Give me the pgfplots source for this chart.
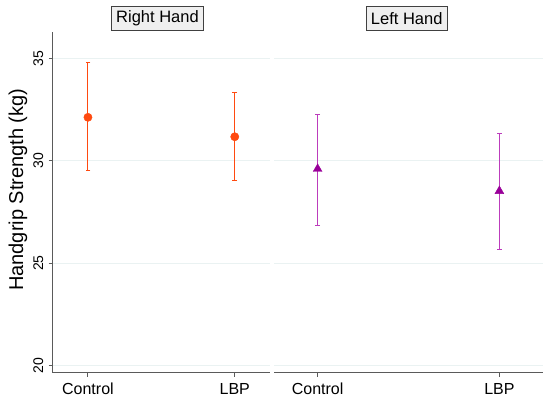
\documentclass[border=0pt]{standalone}
\usepackage{pgfplots}
\pgfplotsset{compat=1.18}
\usepackage{fontspec}
\setmainfont{Liberation Sans}
\definecolor{orred}{HTML}{FF4A10}
\definecolor{mypurple}{HTML}{990099}
\definecolor{barpurple}{HTML}{BC3CBC}
\definecolor{gridc}{HTML}{EAF2F2}
\definecolor{axc}{HTML}{5A5A5A}
\definecolor{boxfill}{HTML}{EFEFEF}
\definecolor{boxdraw}{HTML}{404040}
\pgfplotsset{
  panel/.style={
    scale only axis,
    anchor=south west,
    height=341bp,
    xmin=-0.24, xmax=1.24,
    ymin=19.65, ymax=36.3,
    xtick={0,1}, xticklabels={Control,LBP},
    ytick={20,25,30,35},
    ymajorgrids,
    major grid style={color=gridc, line width=1bp},
    axis x line*=bottom, axis y line*=left,
    axis line style={color=axc, line width=0.9bp, -},
    tick style={color=axc, line width=0.9bp},
    major tick length=4bp,
    tick align=outside,
    /pgf/number format/assume math mode=true,
    xticklabel style={font=\fontsize{16bp}{18bp}\selectfont, text=black, yshift=-3bp},
    yticklabel style={font=\fontsize{14bp}{16bp}\selectfont, xshift=-2bp, rotate=90, anchor=south, text=black},
    clip=false,
  },
}
\begin{document}
\begin{tikzpicture}
\path[use as bounding box] (0,0) rectangle (550bp,407bp);
\begin{axis}[panel, at={(52.7bp,34.3bp)}, width=217.3bp]
\addplot[color=orred, line width=1bp, mark=-, mark size=2.4bp] coordinates {(0,29.50) (0,34.79)};
\addplot[color=orred, line width=1bp, mark=-, mark size=2.4bp] coordinates {(1,29.04) (1,33.32)};
\addplot[only marks, color=orred, mark=*, mark size=4.15bp] coordinates {(0,32.12) (1,31.17)};
\end{axis}
\begin{axis}[panel, at={(274bp,34.3bp)}, width=269bp,
  axis y line*=right, y axis line style={color=white}, ytick style={color=white}, yticklabels={}]
\addplot[color=barpurple, line width=1bp, mark=-, mark size=2.4bp] coordinates {(0,26.86) (0,32.27)};
\addplot[color=barpurple, line width=1bp, mark=-, mark size=2.4bp] coordinates {(1,25.67) (1,31.32)};
\addplot[only marks, color=mypurple, mark=triangle*, mark size=5.1bp] coordinates {(0,29.60) (1,28.52)};
\end{axis}
\node[rotate=90, font=\fontsize{20bp}{24bp}\selectfont] at (18bp,217.3bp) {Handgrip Strength (kg)};
\node[draw=boxdraw, fill=boxfill, line width=0.8bp, inner xsep=5bp, inner ysep=0bp,
  minimum height=24bp, font=\fontsize{16.5bp}{19bp}\selectfont] at (157.5bp,388.3bp) {Right Hand};
\node[draw=boxdraw, fill=boxfill, line width=0.8bp, inner xsep=5bp, inner ysep=0bp,
  minimum height=24bp, font=\fontsize{16.5bp}{19bp}\selectfont] at (406.7bp,388.3bp) {Left Hand};
\end{tikzpicture}
\end{document}
